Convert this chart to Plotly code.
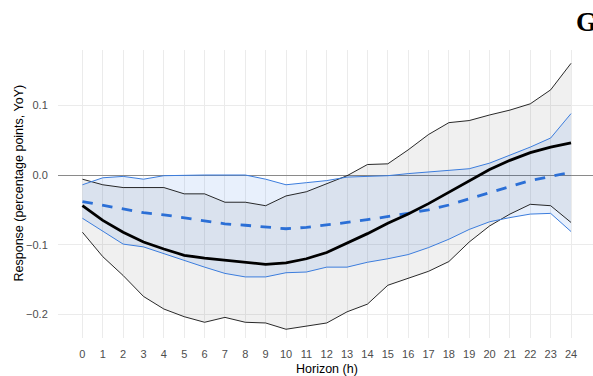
import plotly.graph_objects as go

horizon = list(range(25))

est_a = [-0.044, -0.065, -0.082, -0.096, -0.106, -0.115, -0.119, -0.122, -0.124, -0.128,
         -0.126, -0.120, -0.111, -0.098, -0.084, -0.069, -0.056, -0.041, -0.025, -0.008,
         0.008, 0.021, 0.032, 0.040, 0.046]
lo_a = [-0.082, -0.117, -0.144, -0.174, -0.192, -0.203, -0.211, -0.204, -0.211, -0.212,
        -0.221, -0.217, -0.212, -0.196, -0.185, -0.158, -0.148, -0.138, -0.124, -0.096,
        -0.073, -0.056, -0.042, -0.044, -0.068]
hi_a = [-0.006, -0.014, -0.018, -0.018, -0.018, -0.027, -0.027, -0.039, -0.039, -0.044,
        -0.030, -0.024, -0.013, -0.001, 0.015, 0.016, 0.036, 0.058, 0.075, 0.078,
        0.086, 0.093, 0.102, 0.122, 0.160]

est_b = [-0.038, -0.043, -0.049, -0.054, -0.057, -0.061, -0.066, -0.070, -0.072, -0.075,
         -0.077, -0.075, -0.072, -0.068, -0.064, -0.060, -0.055, -0.050, -0.043, -0.034,
         -0.025, -0.016, -0.008, -0.002, 0.004]
lo_b = [-0.062, -0.080, -0.099, -0.103, -0.113, -0.123, -0.132, -0.141, -0.146, -0.146,
        -0.140, -0.139, -0.132, -0.132, -0.125, -0.120, -0.114, -0.104, -0.092, -0.078,
        -0.067, -0.061, -0.056, -0.055, -0.081]
hi_b = [-0.014, -0.004, -0.002, -0.006, -0.001, 0.000, 0.000, 0.000, 0.000, -0.006,
        -0.014, -0.011, -0.008, -0.003, -0.002, -0.001, 0.002, 0.004, 0.006, 0.009,
        0.017, 0.028, 0.040, 0.053, 0.088]

y_ticks = [-0.2, -0.1, 0.0, 0.1]

BLUE = "#2B6FD6"
FONT = "Liberation Sans"

fig = go.Figure()

# grey ribbon (model A)
fig.add_trace(go.Scatter(x=horizon, y=lo_a, mode="lines", line=dict(width=0),
                         hoverinfo="skip", showlegend=False))
fig.add_trace(go.Scatter(x=horizon, y=hi_a, mode="lines", line=dict(width=0),
                         fill="tonexty", fillcolor="rgba(0,0,0,0.058)",
                         hoverinfo="skip", showlegend=False))
# blue ribbon (model B)
fig.add_trace(go.Scatter(x=horizon, y=lo_b, mode="lines", line=dict(width=0),
                         hoverinfo="skip", showlegend=False))
fig.add_trace(go.Scatter(x=horizon, y=hi_b, mode="lines", line=dict(width=0),
                         fill="tonexty", fillcolor="rgba(50,120,230,0.11)",
                         hoverinfo="skip", showlegend=False))

# CI bounds
for ys in (lo_a, hi_a):
    fig.add_trace(go.Scatter(x=horizon, y=ys, mode="lines",
                             line=dict(color="#111111", width=0.9), showlegend=False))
for ys in (lo_b, hi_b):
    fig.add_trace(go.Scatter(x=horizon, y=ys, mode="lines",
                             line=dict(color="#3C7DDD", width=1.0), showlegend=False))

# point estimates
fig.add_trace(go.Scatter(x=horizon, y=est_b, mode="lines",
                         line=dict(color=BLUE, width=2.8, dash="10.5px,9.5px"),
                         showlegend=False))
fig.add_trace(go.Scatter(x=horizon, y=est_a, mode="lines",
                         line=dict(color="#000000", width=2.8), showlegend=False))

L, T, B = 58, 50, 38
W, H = 593, 376
pw = W - L
ph = H - T - B

def px_to_paper_x(px):
    return (px - L) / pw

def px_to_paper_y(py):
    return (H - B - py) / ph

fig.update_layout(
    width=W, height=H,
    margin=dict(l=L, r=0, t=T, b=B, pad=0),
    paper_bgcolor="white", plot_bgcolor="white",
    font=dict(family=FONT, color="#4D4D4D", size=11),
    showlegend=False,
    xaxis=dict(range=[-1.2, (W - 82) / 20.375], tickvals=horizon,
               ticktext=[str(h) for h in horizon],
               showgrid=True, gridcolor="#EBEBEB", gridwidth=1.1,
               zeroline=False, showline=False,
               ticks="outside", ticklen=6, tickcolor="rgba(0,0,0,0)",
               tickfont=dict(size=11, color="#4D4D4D", family=FONT)),
    yaxis=dict(range=[(175 - 338) / 698, (175 - 50) / 698], tickvals=y_ticks,
               tickformat=".1f",
               showgrid=True, gridcolor="#EBEBEB", gridwidth=1.1,
               zeroline=True, zerolinecolor="#8A8A8A", zerolinewidth=1.4,
               showline=False,
               ticks="outside", ticklen=7, tickcolor="rgba(0,0,0,0)",
               tickfont=dict(size=11, color="#4D4D4D", family=FONT)),
    annotations=[
        dict(text="Response (percentage points, YoY)", textangle=-90,
             xref="paper", yref="paper",
             x=px_to_paper_x(18.5), y=px_to_paper_y(183),
             xanchor="center", yanchor="middle", showarrow=False,
             font=dict(family=FONT, size=12.5, color="#000000")),
        dict(text="Horizon (h)", xref="paper", yref="paper",
             x=px_to_paper_x(326.5), y=px_to_paper_y(368.5),
             xanchor="center", yanchor="middle", showarrow=False,
             font=dict(family=FONT, size=12.5, color="#000000")),
        dict(text="<b>G</b>", xref="paper", yref="paper",
             x=px_to_paper_x(574), y=px_to_paper_y(22),
             xanchor="left", yanchor="middle", showarrow=False,
             font=dict(family="Liberation Serif", size=27, color="#000000")),
    ],
)

fig.write_html("out.html")
